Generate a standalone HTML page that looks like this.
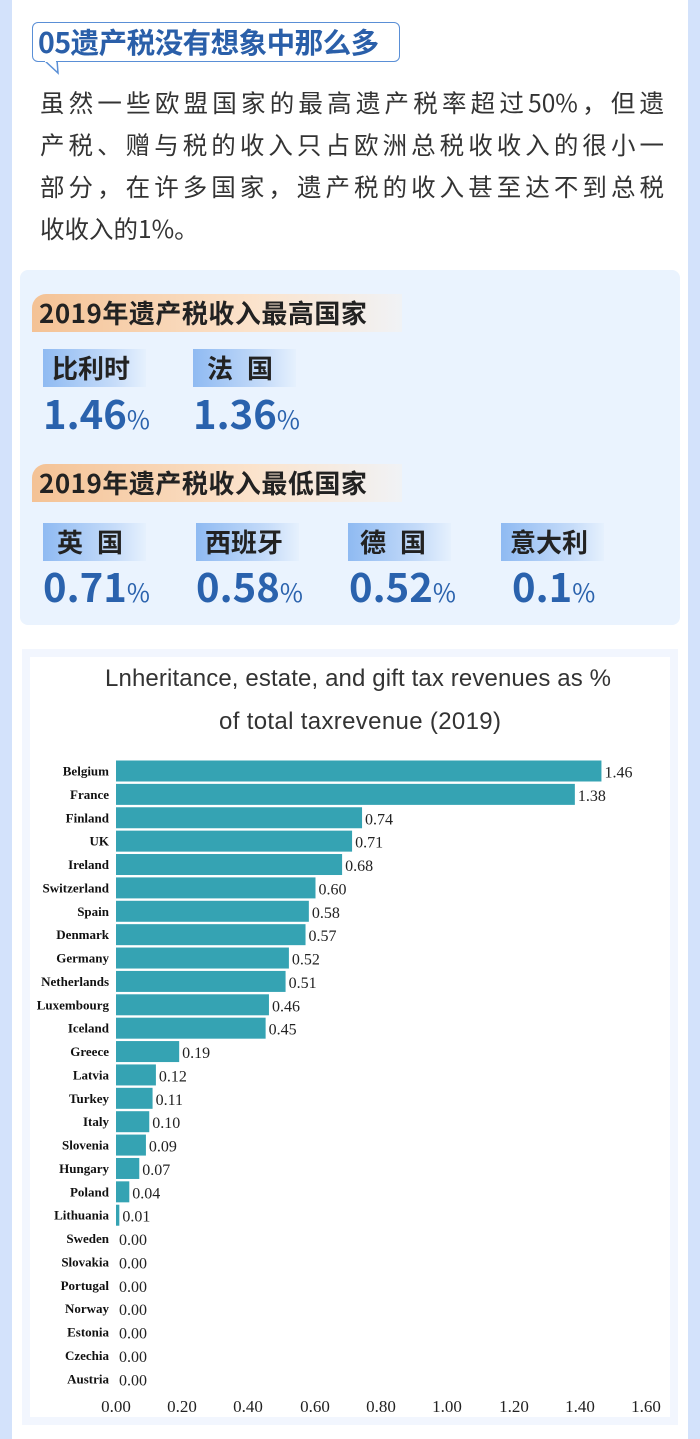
<!DOCTYPE html>
<html><head><meta charset="utf-8"><style>
*{margin:0;padding:0;box-sizing:border-box}
body{width:700px;height:1439px;background:#d3e2fb;font-family:"Liberation Sans","Noto Sans CJK SC",sans-serif;position:relative;overflow:hidden}
.card{position:absolute;left:12px;top:0;width:676px;height:1439px;background:#fff}
.abs{position:absolute}
.bubble{left:32px;top:22px;width:368px;height:40px;border:1.5px solid #5a8fd6;border-radius:6px;background:#fff;color:#2a5fa9;font-weight:bold;font-size:28.5px;line-height:38px;padding-left:5px;font-family:"Noto Sans CJK SC",sans-serif;white-space:nowrap;letter-spacing:-0.5px}
.para div{font-family:"Noto Sans CJK SC",sans-serif;font-size:24.5px;color:#333;width:624px;text-align:justify;text-align-last:justify;height:42px;line-height:42px}
.panel{left:20px;top:270px;width:660px;height:355px;background:#eaf3fe;border-radius:8px}
.oh{height:38px;width:370px;background:linear-gradient(90deg,#f4c295,#fbe3cc 60%,rgba(255,240,225,0.3));border-radius:14px 0 0 0;font-family:"Noto Sans CJK SC",sans-serif;font-weight:bold;font-size:26px;letter-spacing:0.5px;color:#222;line-height:38px;padding-left:7px;white-space:nowrap}
.lb{width:103px;height:38px;background:linear-gradient(90deg,#8fbaf2,#c6dcf9 70%,rgba(220,235,252,0.3));font-family:"Noto Sans CJK SC",sans-serif;font-weight:bold;font-size:26px;color:#222;line-height:38px;padding-left:9px;white-space:nowrap}
.val{font-family:"Noto Sans CJK SC",sans-serif;font-weight:bold;font-size:40px;color:#2a62ad;line-height:44px;white-space:nowrap}
.val span{font-size:25px;font-weight:normal}
.chartbg{left:22px;top:649px;width:656px;height:776px;background:#f2f6fe}
.chart{left:30px;top:657px;width:640px;height:760px;background:#fff}
</style></head><body>
<div class="card"></div>
<svg class="abs" style="left:0;top:0" width="700" height="100"><path d="M44 60 L58 73 L57 60" fill="#fff" stroke="#5a8fd6" stroke-width="1.5"/></svg>
<div class="abs bubble">05遗产税没有想象中那么多</div>
<svg class="abs" style="left:0;top:0" width="700" height="100"><path d="M45 61 L56 61" stroke="#fff" stroke-width="2"/></svg>
<div class="abs para" style="left:40px;top:82px">
<div>虽然一些欧盟国家的最高遗产税率超过50%，但遗</div>
<div>产税、赠与税的收入只占欧洲总税收收入的很小一</div>
<div>部分，在许多国家，遗产税的收入甚至达不到总税</div>
<div style="text-align-last:left">收收入的1%。</div>
</div>
<div class="abs panel"></div>
<div class="abs oh" style="left:32px;top:294px">2019年遗产税收入最高国家</div>
<div class="abs lb" style="left:43px;top:349px">比利时</div>
<div class="abs lb" style="left:193px;top:349px;letter-spacing:14px;padding-left:14px">法国</div>
<div class="abs val" style="left:43px;top:390px">1.46<span>%</span></div>
<div class="abs val" style="left:193px;top:390px">1.36<span>%</span></div>
<div class="abs oh" style="left:32px;top:464px">2019年遗产税收入最低国家</div>
<div class="abs lb" style="left:43px;top:523px;letter-spacing:14px;padding-left:14px">英国</div>
<div class="abs lb" style="left:196px;top:523px">西班牙</div>
<div class="abs lb" style="left:348px;top:523px;letter-spacing:14px;padding-left:12px">德国</div>
<div class="abs lb" style="left:501px;top:523px">意大利</div>
<div class="abs val" style="left:43px;top:563px">0.71<span>%</span></div>
<div class="abs val" style="left:196px;top:563px">0.58<span>%</span></div>
<div class="abs val" style="left:349px;top:563px">0.52<span>%</span></div>
<div class="abs val" style="left:512px;top:563px">0.1<span>%</span></div>
<div class="abs chartbg"></div>
<div class="abs chart"></div>
<svg class="abs" style="left:0;top:0" width="700" height="1439">
<g font-family="'Liberation Sans',sans-serif" font-size="24" fill="#333" text-anchor="middle">
<text x="358" y="686" textLength="506">Lnheritance, estate, and gift tax revenues as %</text>
<text x="360" y="729" textLength="282">of total taxrevenue (2019)</text>
</g>
<g id="bars"></g>
<g font-family="'Liberation Serif',serif" font-size="17" fill="#222" text-anchor="middle">
<text x="116" y="1412">0.00</text><text x="182" y="1412">0.20</text><text x="248" y="1412">0.40</text><text x="315" y="1412">0.60</text><text x="381" y="1412">0.80</text><text x="447" y="1412">1.00</text><text x="514" y="1412">1.20</text><text x="580" y="1412">1.40</text><text x="646" y="1412">1.60</text>
</g>
</svg>
<script>
var d=[["Belgium",1.46],["France",1.38],["Finland",.74],["UK",.71],["Ireland",.68],["Switzerland",.60],["Spain",.58],["Denmark",.57],["Germany",.52],["Netherlands",.51],["Luxembourg",.46],["Iceland",.45],["Greece",.19],["Latvia",.12],["Turkey",.11],["Italy",.10],["Slovenia",.09],["Hungary",.07],["Poland",.04],["Lithuania",.01],["Sweden",0],["Slovakia",0],["Portugal",0],["Norway",0],["Estonia",0],["Czechia",0],["Austria",0]];
var g=document.getElementById("bars"),s="";
d.forEach(function(r,i){var cy=771+i*23.38,w=r[1]*332.5;
s+='<text x="109" y="'+(cy+4.5)+'" text-anchor="end" font-family="Liberation Serif,serif" font-weight="bold" font-size="13" fill="#111">'+r[0]+'</text>';
if(w>0)s+='<rect x="116" y="'+(cy-10.5)+'" width="'+w+'" height="21" fill="#35a3b3"/>';
s+='<text x="'+(116+w+(w>0?3:3))+'" y="'+(cy+6.5)+'" font-family="Liberation Serif,serif" font-size="16" fill="#222">'+r[1].toFixed(2)+'</text>';});
g.innerHTML=s;
</script>
</body></html>
